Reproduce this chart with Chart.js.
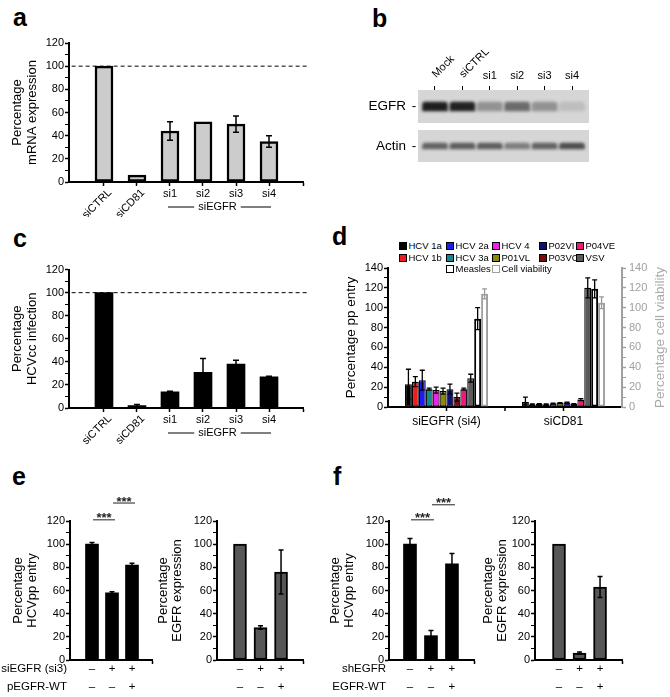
<!DOCTYPE html>
<html>
<head>
<meta charset="utf-8">
<script src="https://cdn.jsdelivr.net/npm/chart.js@4/dist/chart.umd.min.js"></script>
<style>
  body { margin: 0; background: #fff; }
  #fig { position: relative; width: 670px; height: 697px; overflow: hidden;
         font-family: "Liberation Sans", Arial, sans-serif; }
  #fig canvas { position: absolute; }
  .letter { position: absolute; font-weight: bold; font-size: 25px; line-height: 25px; }
  .leg { position: absolute; font-size: 9.5px; line-height: 10px; white-space: nowrap; }
  .leg i { display: inline-block; box-sizing: border-box; width: 8px; height: 8px;
           border: 1.5px solid #000; margin-right: 1.5px; vertical-align: -1px; }
</style>
</head>
<body>
<div id="fig">
  <div class="letter" style="left:13px;top:5px">a</div>
  <div class="letter" style="left:372px;top:6px">b</div>
  <div class="letter" style="left:13px;top:226px">c</div>
  <div class="letter" style="left:332px;top:224px">d</div>
  <div class="letter" style="left:12px;top:464px">e</div>
  <div class="letter" style="left:333px;top:464px">f</div>
</div>
<script>
// a: EGFR mRNA after siRNA knockdown
const catsA = ['siCTRL', 'siCD81', 'si1', 'si2', 'si3', 'si4'];
const mrnaA = [100, 6, 44, 52, 50, 35];
const mrnaErrA = [0, 0, 8, 0, 7, 5];

// c: HCVcc infection, same siRNAs
const hcvccC = [100, 2, 14, 31, 38, 27];
const hcvccErrC = [0, 1, 0.5, 12, 3.5, 0.5];
const siGroup = 'siEGFR';

// b: western blot lanes, band darkness 0..1
const lanesB = ['Mock', 'siCTRL', 'si1', 'si2', 'si3', 'si4'];
const egfrBand = [0.95, 0.92, 0.35, 0.55, 0.35, 0.12];
const actinBand = [0.6, 0.62, 0.62, 0.45, 0.6, 0.7];

// d: pseudoparticle entry, [siEGFR (si4), siCD81]
const groupsD = ['siEGFR (si4)', 'siCD81'];
const virusesD = ['HCV 1a', 'HCV 1b', 'HCV 2a', 'HCV 3a', 'HCV 4', 'P01VL',
                  'P02VI', 'P03VC', 'P04VE', 'VSV', 'Measles'];
const entryD = [[23, 5], [25.5, 2.5], [27, 3], [18, 2.5], [17, 3.5], [16, 4],
                [18, 4.5], [10, 3], [18, 7.5], [29, 120], [89, 119]];
const entryErrD = [[15, 5], [5, 0.5], [10, 0.5], [1, 0.5], [3, 0.5], [3, 0.5],
                   [5, 0.5], [4, 0.5], [1, 1], [4, 10], [11, 9]];
const viabilityD = [114, 105];
const viabilityErrD = [5, 6];
const colorsD = ['#000000', '#ee1c1c', '#1c1cf0', '#168a8a', '#f020f0', '#8a8a10',
                 '#10107a', '#7a0c0c', '#ee1a7a', '#5a5a5a', '#ffffff'];

// e: siEGFR rescue
const condE = ['siEGFR (si3)', 'pEGFR-WT'];
const signsE = [['–', '+', '+'], ['–', '–', '+']];
const entryE = [100, 58, 82];
const entryErrE = [1.5, 1, 1.5];
const exprE = [100, 28, 76];
const exprErrE = [0, 1.5, 19];

// f: shEGFR rescue
const condF = ['shEGFR', 'EGFR-WT'];
const signsF = [['–', '+', '+'], ['–', '–', '+']];
const entryF = [100, 21, 83];
const entryErrF = [5, 4.5, 9];
const exprF = [100, 6, 63];
const exprErrF = [0, 1, 9];

const FONT = '"Liberation Sans", Arial, sans-serif';
Chart.defaults.font.family = FONT;
Chart.defaults.color = '#000';
Chart.defaults.animation = false;

// error bars read from dataset.errors
const errorBars = {
  id: 'errorBars',
  afterDatasetsDraw(chart, args, o) {
    const ctx = chart.ctx;
    chart.data.datasets.forEach((ds, di) => {
      if (!ds.errors) return;
      const meta = chart.getDatasetMeta(di);
      const ys = chart.scales[meta.yAxisID];
      ctx.save();
      ctx.strokeStyle = ds.errorColor || '#000';
      ctx.lineWidth = o.lineWidth || 1.5;
      meta.data.forEach((el, i) => {
        const e = ds.errors[i];
        if (!e) return;
        const v = meta.controller.getParsed(i).y;
        const y1 = ys.getPixelForValue(v + e), y2 = ys.getPixelForValue(v - e);
        const w = o.cap || 3;
        ctx.beginPath();
        ctx.moveTo(el.x, y1); ctx.lineTo(el.x, y2);
        ctx.moveTo(el.x - w, y1); ctx.lineTo(el.x + w, y1);
        ctx.moveTo(el.x - w, y2); ctx.lineTo(el.x + w, y2);
        ctx.stroke();
      });
      ctx.restore();
    });
  }
};

// category names under a/c, long ones tilted
const catLabels = {
  id: 'catLabels',
  afterDraw(chart, args, o) {
    if (!o.labels) return;
    const ctx = chart.ctx, xs = chart.scales.x, y0 = chart.chartArea.bottom;
    ctx.save();
    ctx.fillStyle = '#000';
    ctx.font = '11px ' + FONT;
    o.labels.forEach((t, i) => {
      const px = xs.getPixelForValue(i);
      if (t.length > 3) {
        ctx.save();
        ctx.translate(px + 6, y0 + 9);
        ctx.rotate(-Math.PI / 4);
        ctx.textAlign = 'right';
        ctx.textBaseline = 'middle';
        ctx.fillText(t, 0, 0);
        ctx.restore();
      } else {
        ctx.textAlign = 'center';
        ctx.textBaseline = 'top';
        ctx.fillText(t, px, y0 + 6);
      }
    });
    if (o.group) {
      const g = o.group;
      const x1 = xs.getPixelForValue(g.from) - 2, x2 = xs.getPixelForValue(g.to) + 2;
      const cx = (x1 + x2) / 2 - 2, y = y0 + 25;
      const w = ctx.measureText(g.text).width;
      ctx.textAlign = 'center';
      ctx.textBaseline = 'middle';
      ctx.fillText(g.text, cx, y);
      ctx.strokeStyle = '#000';
      ctx.lineWidth = 1;
      ctx.beginPath();
      ctx.moveTo(x1, y); ctx.lineTo(cx - w / 2 - 4, y);
      ctx.moveTo(cx + w / 2 + 4, y); ctx.lineTo(x2, y);
      ctx.stroke();
    }
    ctx.restore();
  }
};

// +/- condition rows under e/f
const rowSigns = {
  id: 'rowSigns',
  afterDraw(chart, args, o) {
    if (!o.rows) return;
    const ctx = chart.ctx, xs = chart.scales.x, a = chart.chartArea;
    ctx.save();
    ctx.fillStyle = '#000';
    ctx.font = '11.5px ' + FONT;
    ctx.textBaseline = 'middle';
    o.rows.forEach((row, r) => {
      const y = a.bottom + 9 + r * 17.5;
      if (o.names) {
        ctx.textAlign = 'right';
        ctx.fillText(o.names[r], a.left - 3, y);
      }
      ctx.textAlign = 'center';
      row.forEach((s, i) => ctx.fillText(s, xs.getPixelForValue(i), y));
    });
    ctx.restore();
  }
};

// significance lines with stars
const sigBars = {
  id: 'sigBars',
  afterDraw(chart, args, o) {
    if (!o.items) return;
    const ctx = chart.ctx, xs = chart.scales.x, ys = chart.scales.y;
    ctx.save();
    ctx.strokeStyle = '#222';
    ctx.fillStyle = '#222';
    ctx.lineWidth = 1;
    ctx.font = 'bold 13px ' + FONT;
    ctx.textAlign = 'center';
    ctx.textBaseline = 'middle';
    o.items.forEach(it => {
      const x1 = xs.getPixelForValue(it.from) + 1, x2 = xs.getPixelForValue(it.to) + 3;
      const y = ys.getPixelForValue(it.y);
      ctx.beginPath(); ctx.moveTo(x1, y); ctx.lineTo(x2, y); ctx.stroke();
      ctx.fillText('***', (x1 + x2) / 2, y - 1);
    });
    ctx.restore();
  }
};

// western blot boxes, band blur and labels
const blot = {
  id: 'blot',
  beforeDatasetsDraw(chart, args, o) {
    if (!o.rows) return;
    const ctx = chart.ctx, a = chart.chartArea, ys = chart.scales.y;
    ctx.save();
    ctx.fillStyle = '#d6d6d6';
    o.rows.forEach(r => {
      const t = ys.getPixelForValue(r.box[1]), b = ys.getPixelForValue(r.box[0]);
      ctx.fillRect(a.left, t, a.right - a.left, b - t);
    });
    ctx.restore();
    ctx.save();
    ctx.filter = 'blur(1.6px)';
  },
  afterDatasetsDraw(chart, args, o) {
    if (!o.rows) return;
    chart.ctx.restore();
  },
  afterDraw(chart, args, o) {
    if (!o.rows) return;
    const ctx = chart.ctx, a = chart.chartArea, xs = chart.scales.x, ys = chart.scales.y;
    ctx.save();
    ctx.fillStyle = '#000';
    ctx.font = '13.5px ' + FONT;
    ctx.textBaseline = 'middle';
    o.rows.forEach(r => {
      const y = ys.getPixelForValue((r.band[0] + r.band[1]) / 2);
      ctx.textAlign = 'right';
      ctx.fillText(r.name, a.left - 12, y);
      ctx.textAlign = 'center';
      ctx.fillText('-', a.left - 4, y);
    });
    ctx.font = '11px ' + FONT;
    o.lanes.forEach((t, i) => {
      const px = xs.getPixelForValue(i);
      if (t.length > 3) {
        ctx.save();
        ctx.translate(px - 1, a.top - 14);
        ctx.rotate(-Math.PI / 4);
        ctx.textAlign = 'left';
        ctx.fillText(t, 0, 0);
        ctx.restore();
      } else {
        ctx.textAlign = 'center';
        ctx.fillText(t, px, a.top - 14);
      }
    });
    ctx.restore();
  }
};

// extra x tick marks + right-hand title reading upwards (panel d)
const panelD = {
  id: 'panelD',
  afterDraw(chart, args, o) {
    if (!o.sideTitle) return;
    const ctx = chart.ctx, a = chart.chartArea, xs = chart.scales.x;
    ctx.save();
    ctx.strokeStyle = '#000';
    ctx.lineWidth = 1.5;
    o.midTicks.forEach(v => {
      const x = xs.getPixelForValue(v);
      ctx.beginPath(); ctx.moveTo(x, a.bottom); ctx.lineTo(x, a.bottom + 4); ctx.stroke();
    });
    ctx.translate(a.right + 38, (a.top + a.bottom) / 2);
    ctx.rotate(-Math.PI / 2);
    ctx.fillStyle = o.color;
    ctx.font = '13.5px ' + FONT;
    ctx.textAlign = 'center';
    ctx.textBaseline = 'middle';
    ctx.fillText(o.sideTitle, 0, 0);
    ctx.restore();
  }
};

Chart.register(errorBars, catLabels, rowSigns, sigBars, blot, panelD);

const fig = document.getElementById('fig');
function addCanvas(box) {
  const c = document.createElement('canvas');
  c.width = box[2]; c.height = box[3];
  c.style.left = box[0] + 'px'; c.style.top = box[1] + 'px';
  fig.appendChild(c);
  return c;
}

function yAxis(title, pad, width, max, color) {
  color = color || '#000';
  return {
    min: 0, max: max,
    border: { color: color, width: 2 },
    grid: { drawOnChartArea: false, drawTicks: true, tickLength: 4, color: color, tickColor: color,
            tickWidth: c => (c.tick && c.tick.value % 20 ? 1 : 1.5) },
    ticks: { stepSize: 10, autoSkip: false, padding: 1, color: color, font: { size: 11 },
             callback: v => (v % 20 === 0 ? v : '') },
    title: { display: !!title, text: title, color: color, font: { size: 13, lineHeight: 1.1 },
             padding: { top: pad, bottom: 0 } },
    afterFit: s => { s.width = width; }
  };
}

// one bar panel with a linear x axis, bars at 0..n-1
function barPanel(box, area, cfg) {
  const [bx, by, bw, bh] = box, [l, t, r, b] = area;
  const datasets = [{
    type: 'bar',
    data: cfg.values.map((v, i) => ({ x: i, y: v })),
    errors: cfg.errors,
    backgroundColor: cfg.fill,
    borderColor: '#000',
    borderWidth: cfg.border,
    borderSkipped: false,
    barThickness: cfg.barW
  }];
  if (cfg.refLine) {
    datasets.push({
      type: 'line',
      data: [{ x: cfg.xr[0] + 0.08, y: cfg.refLine }, { x: cfg.xr[1] + 0.15, y: cfg.refLine }],
      borderColor: '#000', borderWidth: 1, borderDash: [4, 3], pointRadius: 0, clip: false
    });
  }
  return new Chart(addCanvas(box), {
    type: 'bar',
    data: { datasets },
    options: {
      responsive: false,
      layout: { padding: { top: t - by, right: bx + bw - r, left: 0, bottom: 0 } },
      plugins: {
        legend: { display: false }, tooltip: { enabled: false },
        errorBars: { cap: cfg.cap || 3 },
        catLabels: cfg.catLabels || {},
        rowSigns: cfg.rowSigns || {},
        sigBars: cfg.sig || {}
      },
      scales: {
        x: {
          type: 'linear', min: cfg.xr[0], max: cfg.xr[1], offset: false,
          afterBuildTicks: s => {
            const tk = cfg.xTicks ? cfg.values.map((v, i) => ({ value: i })) : [];
            s.ticks = tk.concat([{ value: cfg.xr[1] }]);
          },
          border: { color: '#000', width: 2 },
          grid: { offset: false, drawOnChartArea: false, tickLength: 4, tickColor: '#000', tickWidth: 1.5 },
          ticks: { display: false },
          afterFit: s => { s.height = by + bh - b; }
        },
        y: yAxis(cfg.title, cfg.titlePad, l - bx, 120)
      }
    }
  });
}

// panel a
barPanel([0, 35, 320, 182], [69, 43, 303, 182], {
  values: mrnaA, errors: mrnaErrA, fill: '#cccccc', border: 2.5, barW: 18,
  xr: [-1.06, 6.03], xTicks: true, refLine: 100,
  title: ['Percentage', 'mRNA expression'], titlePad: 10.5,
  catLabels: { labels: catsA, group: { text: siGroup, from: 2, to: 5 } }
});

// panel c
barPanel([0, 262, 320, 190], [69, 269, 303, 408], {
  values: hcvccC, errors: hcvccErrC, fill: '#000', border: 0, barW: 18,
  xr: [-1.06, 6.03], xTicks: true, refLine: 100,
  title: ['Percentage', 'HCVcc infection'], titlePad: 10.5,
  catLabels: { labels: catsA, group: { text: siGroup, from: 2, to: 5 } }
});

// panel e
barPanel([0, 490, 165, 207], [70, 521, 152, 660], {
  values: entryE, errors: entryErrE, fill: '#000', border: 0, barW: 13, cap: 2.5,
  xr: [-1.1, 3.0], title: ['Percentage', 'HCVpp entry'], titlePad: 11,
  rowSigns: { rows: signsE, names: condE },
  sig: { items: [{ from: 0, to: 1, y: 121 }, { from: 1, to: 2, y: 135.5 }] }
});
barPanel([150, 490, 165, 207], [217, 521, 303, 660], {
  values: exprE, errors: exprErrE, fill: '#575757', border: 2, barW: 13, cap: 2.5,
  xr: [-1.12, 3.07], title: ['Percentage', 'EGFR expression'], titlePad: 6,
  rowSigns: { rows: signsE }
});

// panel f
barPanel([325, 490, 160, 207], [389, 521, 474, 660], {
  values: entryF, errors: entryErrF, fill: '#000', border: 0, barW: 13, cap: 2.5,
  xr: [-1.0, 3.05], title: ['Percentage', 'HCVpp entry'], titlePad: 3,
  rowSigns: { rows: signsF, names: condF },
  sig: { items: [{ from: 0, to: 1, y: 121 }, { from: 1, to: 2, y: 134 }] }
});
barPanel([470, 490, 170, 207], [535, 521, 622, 660], {
  values: exprF, errors: exprErrF, fill: '#575757', border: 2, barW: 13, cap: 2.5,
  xr: [-1.17, 3.07], title: ['Percentage', 'EGFR expression'], titlePad: 11,
  rowSigns: { rows: signsF }
});

// panel b: blot drawn as floating bars on lane positions
const blotRows = [
  { name: 'EGFR', box: [39, 72], band: [51, 60], level: egfrBand },
  { name: 'Actin', box: [0, 32], band: [13, 19], level: actinBand }
];
new Chart(addCanvas([360, 40, 250, 125]), {
  type: 'bar',
  data: {
    datasets: blotRows.map(r => ({
      data: lanesB.map((l, i) => ({ x: i, y: r.band })),
      backgroundColor: r.level.map(a => 'rgba(20,20,20,' + a + ')'),
      borderWidth: 0, borderRadius: 3, barThickness: 25, grouped: false
    }))
  },
  options: {
    responsive: false,
    layout: { padding: { left: 58, right: 21, top: 0, bottom: 3 } },
    plugins: { legend: { display: false }, tooltip: { enabled: false },
               blot: { rows: blotRows, lanes: lanesB } },
    scales: {
      x: { type: 'linear', position: 'top', min: -0.62, max: 5.62, offset: false,
           afterBuildTicks: s => { s.ticks = lanesB.map((l, i) => ({ value: i })); },
           border: { display: false },
           grid: { offset: false, drawOnChartArea: false, tickLength: 4, tickColor: '#000', tickWidth: 1 },
           ticks: { display: false },
           afterFit: s => { s.height = 50; } },
      y: { display: false, min: 0, max: 72 }
    }
  }
});

// panel d
const dsD = virusesD.map((name, k) => ({
  label: name, data: entryD[k], errors: entryErrD[k], yAxisID: 'y',
  backgroundColor: colorsD[k], borderColor: '#000', borderWidth: name === 'Measles' ? 2 : 1.2,
  borderSkipped: false, categoryPercentage: 0.71, barPercentage: 1
}));
dsD.push({
  label: 'Cell viability', data: viabilityD, errors: viabilityErrD, errorColor: '#999', yAxisID: 'y2',
  backgroundColor: '#ffffff', borderColor: '#a0a0a0', borderWidth: 2,
  borderSkipped: false, categoryPercentage: 0.71, barPercentage: 1
});
const yD = yAxis('Percentage pp entry', 18.5, 63, 140);
yD.title.font = { size: 13.5, lineHeight: 1.1 };
const y2D = yAxis('', 0, 48, 140, '#a0a0a0');
y2D.position = 'right';
y2D.ticks.padding = 3;
new Chart(addCanvas([325, 258, 345, 182]), {
  type: 'bar',
  data: { labels: groupsD, datasets: dsD },
  options: {
    responsive: false,
    layout: { padding: { top: 10, left: 0, right: 0, bottom: 0 } },
    plugins: { legend: { display: false }, tooltip: { enabled: false },
               errorBars: { cap: 2.5, lineWidth: 1.3 },
               panelD: { sideTitle: 'Percentage cell viability', color: '#aaaaaa', midTicks: [0.5] } },
    scales: {
      x: { offset: true, border: { color: '#000', width: 2 },
           grid: { offset: false, drawOnChartArea: false, tickLength: 4, tickColor: '#000', tickWidth: 1.5 },
           ticks: { padding: 3, font: { size: 12 }, maxRotation: 0 },
           afterFit: s => { s.height = 440 - 407; } },
      y: yD,
      y2: y2D
    }
  }
});

// legend for d, two rows by column then the last row
const legendCols = [399, 446, 492, 539, 576];
const legendRows = [241, 253, 264];
const legItems = virusesD.map((n, k) => ({ name: n, fill: colorsD[k], edge: '#000' }))
  .concat([{ name: 'Cell viability', fill: '#fff', edge: '#a0a0a0' }]);
legItems.forEach((it, i) => {
  const col = i < 10 ? Math.floor(i / 2) : i - 9;
  const row = i < 10 ? i % 2 : 2;
  const d = document.createElement('div');
  d.className = 'leg';
  d.style.left = legendCols[col] + 'px';
  d.style.top = legendRows[row] + 'px';
  d.innerHTML = '<i style="background:' + it.fill + ';border-color:' + it.edge + '"></i>' + it.name;
  fig.appendChild(d);
});
</script>
</body>
</html>
